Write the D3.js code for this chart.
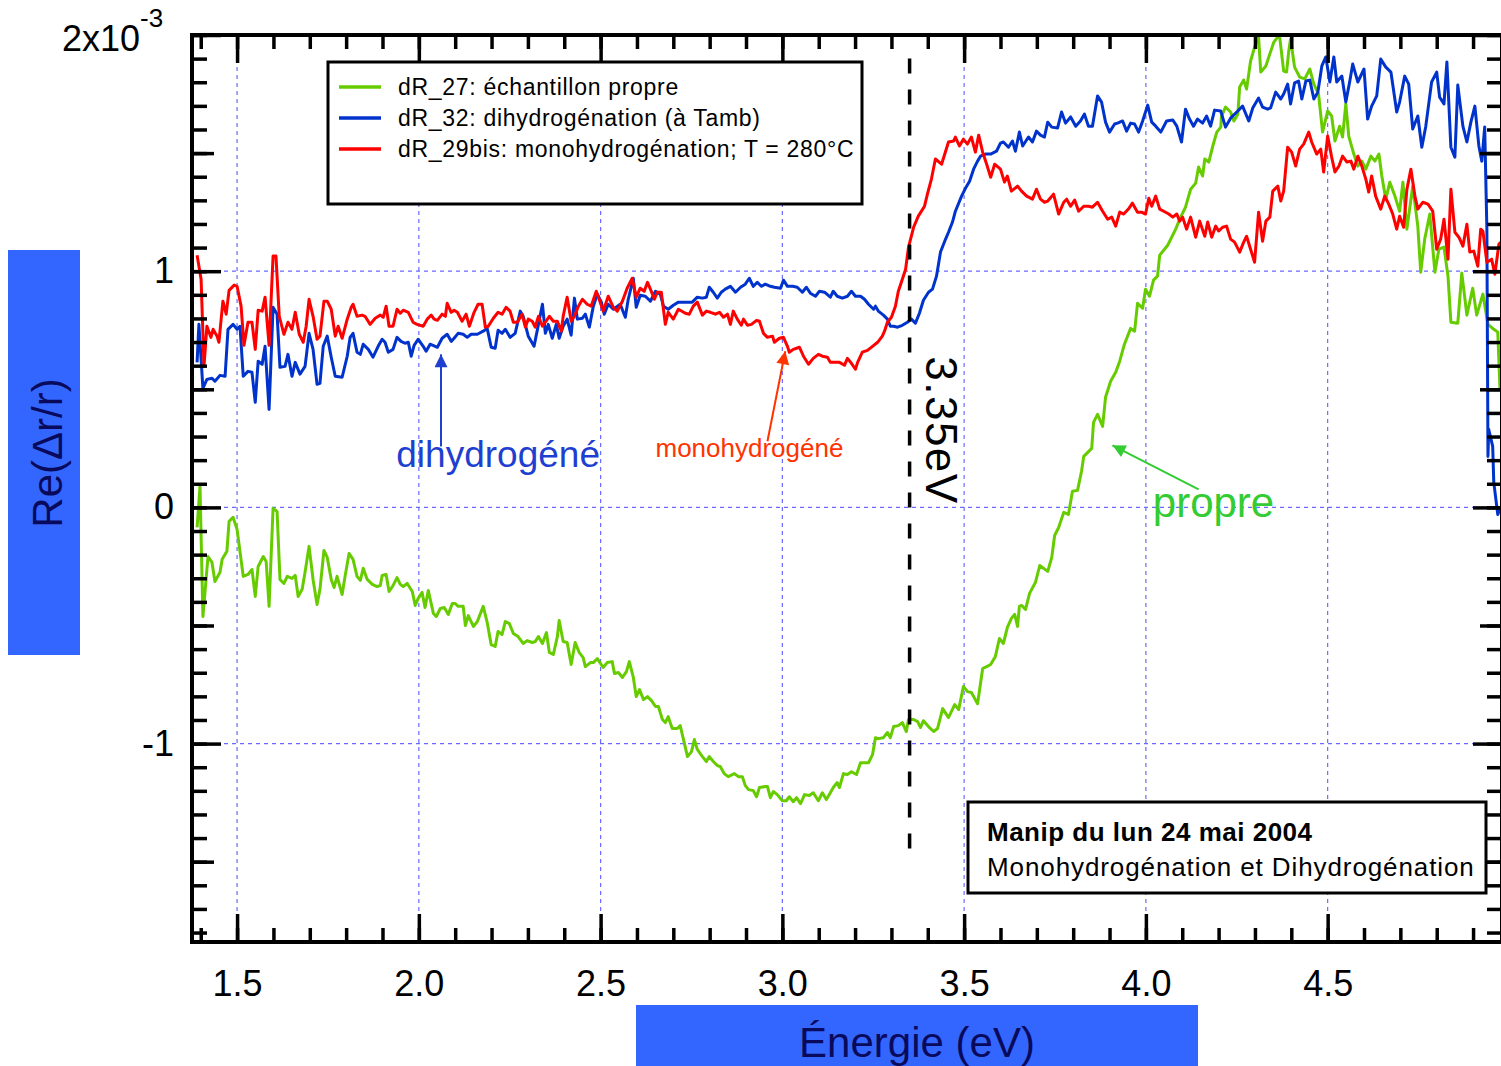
<!DOCTYPE html>
<html>
<head>
<meta charset="utf-8">
<script src="https://cdn.jsdelivr.net/npm/d3@7"></script>
<style>
body{margin:0;background:#fff;}
text{font-family:"Liberation Sans",Arial,sans-serif;}
</style>
</head>
<body>
<script>
// values are Re(dr/r) in units of 1e-3, energy in eV
var propre = [[1.390,-0.085],[1.398,0.089],[1.406,-0.462],[1.420,-0.208],[1.431,-0.233],[1.439,-0.314],[1.453,-0.275],[1.459,-0.220],[1.472,-0.186],[1.478,-0.059],[1.489,-0.042],[1.500,-0.093],[1.517,-0.292],[1.530,-0.284],[1.541,-0.263],[1.550,-0.377],[1.558,-0.250],[1.572,-0.208],[1.580,-0.229],[1.588,-0.419],[1.599,-0.004],[1.610,-0.017],[1.618,-0.305],[1.629,-0.322],[1.638,-0.292],[1.651,-0.301],[1.660,-0.288],[1.668,-0.377],[1.679,-0.347],[1.687,-0.275],[1.698,-0.165],[1.709,-0.305],[1.720,-0.411],[1.728,-0.347],[1.739,-0.182],[1.748,-0.212],[1.759,-0.305],[1.767,-0.339],[1.775,-0.292],[1.789,-0.369],[1.797,-0.292],[1.808,-0.195],[1.819,-0.220],[1.830,-0.292],[1.839,-0.309],[1.847,-0.258],[1.858,-0.305],[1.872,-0.326],[1.885,-0.335],[1.894,-0.331],[1.899,-0.288],[1.910,-0.284],[1.918,-0.356],[1.929,-0.331],[1.940,-0.297],[1.949,-0.326],[1.957,-0.335],[1.968,-0.322],[1.982,-0.356],[1.990,-0.415],[1.998,-0.386],[2.009,-0.360],[2.017,-0.424],[2.026,-0.352],[2.040,-0.449],[2.048,-0.462],[2.059,-0.428],[2.070,-0.424],[2.081,-0.453],[2.092,-0.407],[2.100,-0.407],[2.108,-0.419],[2.122,-0.419],[2.128,-0.500],[2.136,-0.458],[2.150,-0.504],[2.161,-0.483],[2.177,-0.419],[2.188,-0.487],[2.199,-0.581],[2.210,-0.589],[2.218,-0.525],[2.229,-0.538],[2.238,-0.483],[2.249,-0.492],[2.260,-0.534],[2.273,-0.547],[2.287,-0.576],[2.298,-0.564],[2.312,-0.572],[2.320,-0.568],[2.329,-0.547],[2.340,-0.576],[2.351,-0.530],[2.359,-0.614],[2.370,-0.623],[2.381,-0.547],[2.386,-0.479],[2.397,-0.568],[2.408,-0.572],[2.419,-0.665],[2.430,-0.572],[2.441,-0.614],[2.452,-0.636],[2.458,-0.674],[2.472,-0.657],[2.480,-0.657],[2.491,-0.640],[2.507,-0.678],[2.518,-0.657],[2.532,-0.653],[2.538,-0.703],[2.549,-0.699],[2.560,-0.720],[2.571,-0.695],[2.579,-0.653],[2.590,-0.720],
  [2.598,-0.801],[2.607,-0.771],[2.618,-0.814],[2.629,-0.801],[2.640,-0.818],[2.651,-0.843],[2.659,-0.843],[2.670,-0.898],[2.678,-0.911],[2.686,-0.886],[2.697,-0.936],[2.711,-0.936],[2.719,-0.924],[2.728,-0.983],[2.739,-1.055],[2.750,-1.034],[2.758,-0.983],[2.766,-1.025],[2.780,-1.055],[2.791,-1.076],[2.799,-1.055],[2.810,-1.076],[2.821,-1.093],[2.829,-1.097],[2.840,-1.127],[2.851,-1.140],[2.868,-1.127],[2.879,-1.140],[2.890,-1.140],[2.898,-1.178],[2.907,-1.195],[2.920,-1.199],[2.929,-1.225],[2.937,-1.186],[2.953,-1.182],[2.959,-1.182],[2.967,-1.229],[2.975,-1.203],[2.986,-1.216],[3.000,-1.242],[3.011,-1.242],[3.019,-1.225],[3.030,-1.246],[3.039,-1.229],[3.050,-1.254],[3.061,-1.216],[3.074,-1.220],[3.085,-1.208],[3.099,-1.242],[3.110,-1.208],[3.121,-1.237],[3.132,-1.208],[3.140,-1.186],[3.151,-1.165],[3.157,-1.186],[3.168,-1.127],[3.179,-1.131],[3.190,-1.119],[3.204,-1.131],[3.215,-1.081],[3.229,-1.081],[3.237,-1.081],[3.248,-1.047],[3.256,-0.975],[3.264,-0.979],[3.278,-0.975],[3.289,-0.953],[3.297,-0.975],[3.306,-0.928],[3.319,-0.924],[3.330,-0.911],[3.341,-0.949],[3.347,-0.898],[3.361,-0.898],[3.372,-0.907],[3.380,-0.932],[3.388,-0.903],[3.402,-0.928],[3.416,-0.949],[3.427,-0.936],[3.441,-0.852],[3.457,-0.890],[3.474,-0.835],[3.485,-0.856],[3.498,-0.758],[3.509,-0.780],[3.520,-0.784],[3.537,-0.831],[3.551,-0.682],[3.562,-0.674],[3.573,-0.665],[3.586,-0.631],[3.597,-0.555],[3.608,-0.576],[3.619,-0.508],[3.630,-0.470],[3.639,-0.453],[3.647,-0.504],[3.652,-0.419],
  [3.658,-0.415],[3.669,-0.432],[3.680,-0.364],[3.696,-0.318],[3.708,-0.246],[3.730,-0.271],[3.741,-0.212],[3.749,-0.119],[3.760,-0.085],[3.774,-0.021],[3.787,-0.030],[3.798,0.068],[3.812,0.072],[3.823,0.153],[3.829,0.216],[3.851,0.250],[3.856,0.360],[3.867,0.394],[3.881,0.343],[3.889,0.466],[3.903,0.534],[3.917,0.572],[3.928,0.619],[3.941,0.691],[3.958,0.758],[3.969,0.746],[3.977,0.864],[3.991,0.843],[3.999,0.924],[4.010,0.894],[4.021,0.962],[4.032,0.979],[4.038,1.068],[4.060,1.110],[4.082,1.178],
  [4.093,1.220],[4.109,1.271],[4.123,1.347],[4.137,1.373],[4.145,1.441],[4.156,1.403],[4.162,1.475],[4.173,1.462],[4.184,1.530],[4.195,1.589],[4.206,1.610],[4.208,1.657],[4.219,1.695],[4.233,1.674],[4.242,1.636],[4.253,1.665],[4.258,1.780],[4.269,1.809],[4.277,1.771],[4.288,1.890],[4.299,1.949],[4.310,1.992],[4.316,1.843],[4.330,1.869],[4.341,1.920],[4.352,1.970],[4.363,1.992],[4.368,1.992],[4.379,1.847],[4.387,1.843],[4.393,1.932],[4.398,1.983],[4.409,1.864],[4.423,1.822],[4.437,1.814],[4.451,1.856],[4.462,1.792],[4.475,1.750],[4.486,1.589],[4.500,1.678],[4.511,1.657],[4.520,1.551],[4.533,1.614],[4.541,1.568],[4.550,1.708],[4.558,1.572],[4.572,1.496],[4.583,1.445],[4.594,1.466],[4.605,1.432],[4.619,1.487],[4.630,1.466],[4.641,1.496],[4.649,1.403],[4.660,1.305],[4.671,1.377],[4.685,1.318],[4.698,1.254],[4.707,1.377],[4.718,1.178],[4.734,1.360],[4.748,1.191],[4.756,0.996],[4.767,1.136],[4.781,1.242],[4.795,0.996],[4.806,1.093],[4.820,1.102],[4.831,0.979],[4.839,0.784],[4.858,0.780],[4.869,0.992],[4.883,0.814],[4.899,0.928],[4.910,0.814],[4.927,0.903],[4.941,0.775],[4.957,0.754],[4.968,0.742],[4.974,0.500]];

var dihydro = [[1.390,0.614],[1.395,0.775],[1.406,0.504],[1.417,0.542],[1.431,0.547],[1.439,0.534],[1.453,0.559],[1.467,0.555],[1.475,0.754],[1.489,0.775],[1.500,0.754],[1.508,0.767],[1.517,0.555],[1.530,0.576],[1.541,0.572],[1.550,0.445],[1.558,0.619],[1.569,0.606],[1.577,0.682],[1.588,0.415],[1.599,0.847],[1.610,0.818],[1.618,0.593],[1.632,0.597],[1.640,0.648],[1.651,0.555],[1.660,0.614],[1.673,0.564],[1.687,0.597],[1.698,0.737],[1.709,0.669],[1.720,0.521],[1.728,0.525],[1.737,0.682],[1.748,0.725],[1.759,0.636],[1.770,0.555],[1.789,0.551],[1.803,0.640],[1.811,0.720],[1.819,0.737],[1.830,0.657],[1.839,0.648],[1.847,0.691],[1.861,0.669],[1.874,0.636],[1.888,0.682],[1.899,0.712],[1.907,0.699],[1.916,0.657],[1.929,0.669],[1.940,0.720],[1.951,0.703],[1.962,0.695],[1.971,0.699],[1.979,0.640],[1.987,0.686],[1.998,0.712],[2.012,0.682],[2.020,0.661],[2.031,0.691],[2.039,0.686],[2.051,0.678],[2.064,0.716],[2.078,0.733],[2.089,0.703],[2.097,0.716],[2.108,0.737],[2.122,0.733],[2.133,0.720],[2.144,0.733],[2.161,0.733],[2.177,0.746],[2.188,0.758],[2.199,0.678],[2.210,0.674],[2.218,0.750],[2.229,0.737],[2.238,0.754],[2.251,0.720],[2.265,0.737],[2.279,0.831],[2.287,0.809],[2.301,0.725],[2.317,0.682],[2.329,0.775],[2.340,0.860],[2.348,0.737],[2.356,0.775],[2.367,0.716],[2.378,0.775],[2.386,0.716],[2.397,0.767],[2.408,0.797],[2.419,0.729],[2.428,0.886],[2.436,0.797],[2.450,0.801],[2.458,0.818],[2.469,0.763],[2.480,0.852],[2.491,0.903],[2.502,0.869],[2.510,0.818],[2.521,0.860],[2.535,0.839],[2.554,0.860],[2.568,0.805],[2.576,0.881],[2.590,0.970],[2.598,0.847],[2.609,0.898],[2.623,0.894],[2.637,0.873],[2.651,0.915],[2.664,0.903],[2.673,0.852],[2.686,0.839],[2.700,0.856],[2.714,0.869],[2.736,0.869],[2.752,0.869],[2.766,0.890],[2.780,0.886],[2.791,0.890],[2.799,0.932],[2.810,0.911],[2.821,0.886],[2.832,0.911],[2.843,0.924],[2.857,0.936],[2.871,0.911],[2.885,0.932],[2.898,0.945],[2.909,0.970],[2.920,0.936],[2.931,0.953],[2.942,0.936],[2.953,0.945],[2.967,0.936],[2.978,0.932],[2.995,0.928],[3.003,0.962],[3.014,0.936],[3.028,0.936],[3.041,0.932],[3.055,0.911],[3.066,0.932],[3.077,0.907],[3.091,0.894],[3.102,0.915],[3.116,0.911],[3.132,0.890],[3.140,0.915],[3.151,0.894],[3.165,0.886],[3.179,0.894],[3.190,0.915],[3.201,0.894],[3.215,0.894],[3.226,0.881],[3.237,0.860],[3.251,0.839],[3.256,0.852],[3.264,0.831],[3.278,0.814],[3.289,0.797],[3.297,0.767],[3.306,0.767],[3.317,0.763],[3.330,0.771],[3.344,0.784],[3.355,0.797],[3.366,0.780],[3.377,0.822],[3.388,0.877],[3.402,0.911],[3.413,0.924],[3.424,0.979],[3.435,1.081],[3.449,1.136],
  [3.457,1.165],[3.468,1.208],[3.476,1.254],[3.493,1.318],[3.504,1.352],[3.515,1.381],[3.526,1.432],[3.537,1.466],[3.545,1.487],[3.559,1.496],[3.573,1.496],[3.589,1.508],[3.600,1.542],[3.608,1.547],[3.622,1.525],[3.633,1.551],[3.641,1.508],[3.652,1.589],[3.661,1.530],[3.677,1.568],[3.688,1.547],[3.699,1.593],[3.710,1.576],[3.721,1.568],[3.730,1.631],[3.741,1.610],[3.757,1.606],[3.768,1.674],[3.779,1.627],[3.793,1.653],[3.807,1.614],[3.820,1.636],[3.831,1.665],[3.842,1.614],[3.853,1.614],[3.867,1.742],[3.878,1.716],[3.889,1.631],[3.900,1.589],[3.914,1.623],[3.922,1.627],[3.936,1.636],[3.947,1.593],[3.958,1.627],[3.969,1.623],[3.980,1.589],[3.991,1.636],[4.005,1.703],[4.016,1.631],[4.027,1.614],[4.041,1.589],[4.057,1.636],[4.074,1.640],[4.085,1.614],[4.098,1.547],[4.109,1.686],[4.120,1.644],[4.131,1.614],[4.142,1.644],[4.156,1.627],[4.167,1.657],[4.178,1.614],[4.189,1.682],[4.206,1.678],[4.219,1.610],[4.233,1.648],[4.250,1.674],[4.266,1.699],[4.283,1.636],[4.294,1.691],[4.310,1.733],[4.321,1.695],[4.335,1.686],[4.343,1.691],[4.357,1.758],[4.371,1.729],[4.379,1.750],[4.390,1.792],[4.398,1.708],[4.409,1.797],[4.420,1.805],[4.429,1.729],[4.440,1.805],[4.451,1.809],[4.462,1.729],[4.473,1.758],[4.484,1.869],[4.495,1.907],[4.506,1.801],[4.517,1.907],[4.525,1.801],[4.539,1.826],[4.550,1.716],[4.561,1.805],[4.569,1.877],[4.583,1.801],[4.600,1.856],[4.610,1.644],[4.621,1.699],[4.635,1.742],[4.646,1.898],[4.660,1.864],[4.674,1.843],[4.690,1.674],[4.698,1.716],[4.712,1.826],[4.723,1.792],[4.734,1.602],[4.748,1.657],[4.759,1.525],[4.770,1.614],[4.786,1.801],[4.800,1.843],[4.808,1.737],[4.820,1.708],[4.828,1.886],[4.839,1.525],[4.850,1.483],[4.858,1.788],[4.872,1.614],[4.883,1.547],[4.894,1.631],[4.905,1.699],[4.916,1.530],[4.924,1.466],[4.932,1.610],[4.938,1.178],[4.941,0.216],[4.943,0.331],[4.954,0.258],[4.957,0.106],[4.968,-0.030],[4.976,0.004]];

var monohydro = [[1.390,1.068],[1.401,0.966],[1.409,0.597],[1.417,0.767],[1.428,0.720],[1.434,0.754],[1.445,0.725],[1.450,0.699],[1.461,0.873],[1.470,0.818],[1.478,0.919],[1.492,0.941],[1.500,0.936],[1.511,0.852],[1.519,0.686],[1.530,0.784],[1.541,0.784],[1.550,0.669],[1.558,0.835],[1.569,0.831],[1.577,0.890],[1.588,0.686],[1.599,1.064],[1.607,1.064],[1.616,0.809],[1.629,0.733],[1.640,0.784],[1.651,0.754],[1.660,0.826],[1.671,0.733],[1.682,0.699],[1.690,0.767],[1.698,0.881],[1.709,0.809],[1.720,0.712],[1.728,0.725],[1.739,0.873],[1.748,0.873],[1.759,0.839],[1.770,0.725],[1.778,0.767],[1.789,0.716],[1.803,0.797],[1.814,0.847],[1.819,0.860],[1.830,0.809],[1.844,0.814],[1.852,0.809],[1.866,0.775],[1.880,0.801],[1.894,0.814],[1.902,0.805],[1.910,0.852],[1.918,0.767],[1.929,0.767],[1.940,0.839],[1.949,0.822],[1.957,0.835],[1.971,0.826],[1.984,0.784],[1.995,0.775],[2.012,0.767],[2.023,0.797],[2.034,0.814],[2.042,0.797],[2.051,0.792],[2.064,0.818],[2.073,0.809],[2.078,0.864],[2.089,0.826],[2.097,0.835],[2.106,0.826],[2.119,0.788],[2.130,0.818],[2.139,0.767],[2.152,0.826],[2.163,0.860],[2.174,0.860],[2.183,0.763],[2.191,0.767],[2.205,0.801],[2.218,0.826],[2.229,0.818],[2.240,0.847],[2.251,0.831],[2.260,0.784],[2.271,0.784],[2.284,0.818],[2.293,0.763],[2.301,0.797],[2.312,0.788],[2.320,0.763],[2.329,0.809],[2.340,0.767],[2.348,0.784],[2.359,0.809],[2.370,0.788],[2.381,0.788],[2.392,0.746],[2.397,0.809],[2.408,0.890],[2.419,0.788],[2.428,0.809],[2.439,0.852],[2.450,0.881],[2.463,0.860],[2.474,0.852],[2.488,0.915],[2.496,0.881],[2.507,0.831],[2.521,0.894],[2.535,0.847],[2.546,0.831],[2.560,0.873],[2.573,0.928],[2.587,0.970],[2.598,0.890],[2.609,0.928],[2.620,0.915],[2.629,0.953],[2.637,0.924],[2.648,0.881],[2.656,0.911],[2.667,0.911],[2.678,0.775],[2.686,0.826],[2.700,0.797],[2.714,0.839],[2.733,0.822],[2.744,0.818],[2.755,0.852],[2.766,0.869],[2.780,0.814],[2.791,0.831],[2.802,0.826],[2.816,0.818],[2.827,0.826],[2.838,0.805],[2.849,0.818],[2.857,0.775],[2.865,0.831],[2.876,0.797],[2.887,0.771],[2.893,0.797],[2.904,0.771],[2.915,0.775],[2.929,0.792],[2.937,0.788],[2.948,0.737],[2.959,0.720],[2.973,0.725],[2.978,0.699],[2.992,0.716],[3.003,0.720],[3.014,0.682],[3.019,0.657],[3.030,0.669],[3.047,0.678],[3.058,0.640],[3.072,0.606],[3.085,0.631],[3.099,0.648],[3.110,0.640],[3.124,0.636],[3.132,0.614],[3.146,0.614],[3.157,0.614],[3.171,0.602],[3.179,0.631],[3.190,0.610],[3.201,0.585],[3.207,0.614],[3.220,0.657],[3.234,0.665],[3.248,0.682],[3.262,0.699],[3.275,0.725],[3.281,0.746],[3.289,0.784],[3.300,0.805],[3.311,0.852],[3.319,0.915],[3.330,0.966],[3.339,1.008],[3.347,1.102],[3.361,1.186],[3.374,1.233],[3.391,1.275],[3.399,1.326],[3.410,1.390],[3.421,1.475],[3.438,1.453],[3.457,1.547],[3.471,1.551],[3.476,1.568],[3.487,1.530],[3.498,1.559],[3.509,1.538],[3.520,1.568],[3.531,1.504],[3.540,1.576],[3.551,1.504],[3.562,1.453],[3.573,1.398],[3.584,1.453],[3.600,1.432],[3.611,1.377],[3.619,1.403],[3.630,1.339],[3.647,1.360],[3.658,1.339],[3.672,1.318],[3.688,1.305],[3.699,1.347],[3.710,1.305],[3.721,1.292],[3.730,1.297],[3.746,1.326],[3.760,1.242],[3.774,1.292],[3.782,1.305],[3.793,1.275],[3.804,1.301],[3.815,1.254],[3.829,1.275],[3.842,1.275],[3.853,1.271],[3.867,1.292],[3.881,1.254],[3.895,1.220],[3.906,1.229],[3.917,1.191],[3.928,1.250],[3.939,1.242],[3.952,1.263],[3.963,1.288],[3.977,1.250],[3.988,1.250],[3.999,1.242],[4.008,1.309],[4.016,1.275],[4.027,1.318],[4.038,1.263],[4.049,1.254],[4.063,1.242],[4.074,1.229],[4.085,1.242],[4.093,1.212],[4.101,1.229],[4.112,1.178],[4.123,1.229],[4.137,1.144],[4.148,1.212],[4.162,1.148],[4.170,1.208],[4.181,1.144],[4.192,1.191],[4.200,1.170],[4.211,1.186],[4.222,1.191],[4.233,1.136],[4.244,1.123],[4.258,1.081],[4.269,1.123],[4.277,1.148],[4.288,1.093],[4.299,1.038],[4.310,1.250],[4.321,1.127],[4.330,1.212],[4.341,1.229],[4.349,1.339],[4.363,1.360],[4.371,1.297],[4.379,1.339],[4.390,1.525],[4.401,1.504],[4.412,1.445],[4.423,1.517],[4.434,1.538],[4.448,1.589],[4.456,1.547],[4.470,1.496],[4.481,1.517],[4.489,1.420],[4.500,1.572],[4.511,1.483],[4.520,1.420],[4.531,1.445],[4.541,1.487],[4.553,1.462],[4.564,1.466],[4.572,1.432],[4.583,1.487],[4.594,1.445],[4.605,1.390],[4.613,1.335],[4.621,1.403],[4.632,1.318],[4.646,1.263],[4.657,1.318],[4.668,1.284],[4.679,1.242],[4.690,1.178],[4.698,1.233],[4.709,1.186],[4.718,1.347],[4.729,1.432],[4.740,1.318],[4.748,1.263],[4.762,1.292],[4.776,1.284],[4.789,1.254],[4.800,1.093],[4.811,1.136],[4.820,1.220],[4.831,1.051],[4.839,1.347],[4.850,1.165],[4.861,1.144],[4.872,1.106],[4.883,1.199],[4.891,1.081],[4.902,1.085],[4.913,1.021],[4.921,1.178],[4.927,1.170],[4.938,1.038],[4.951,1.051],[4.960,0.987],[4.971,1.114],[4.976,1.123]];

var seriesNames = ["dR_27: échantillon propre", "dR_32: dihydrogénation (à Tamb)", "dR_29bis: monohydrogénation; T = 280°C"];
var seriesColors = ["#66cc00", "#0033cc", "#ff0000"];
var xMajorTicks = [1.5, 2.0, 2.5, 3.0, 3.5, 4.0, 4.5];
var yMajorTicks = [-1, 0, 1, 2];
var yGridTicks = [-1, 0, 1];
var markerEnergy = 3.35;

window.onload = function(){
    var W = 1501, H = 1066;
    var left = 192, right = 1502, top = 35, bottom = 942;

    var svg = d3.select("body").append("svg")
        .attr("width", W).attr("height", H)
        .style("display", "block");

    var x = d3.scaleLinear().domain([1.376, 4.9796]).range([left, right]);
    var y = d3.scaleLinear().domain([-1.84, 2.0]).range([bottom, top]);

    var defs = svg.append("defs");
    defs.append("clipPath").attr("id", "plotclip")
        .append("rect").attr("x", left).attr("y", top - 2)
        .attr("width", right - left).attr("height", bottom - top + 2);

    function arrowMarker(id, color){
        defs.append("marker").attr("id", id)
            .attr("viewBox", "0 0 10 10").attr("refX", 10).attr("refY", 5)
            .attr("markerUnits", "userSpaceOnUse")
            .attr("markerWidth", 15).attr("markerHeight", 13)
            .attr("orient", "auto")
            .append("path").attr("d", "M0,0 L10,5 L0,10 Z").attr("fill", color);
    }
    arrowMarker("arrBlue", "#1f3fd0");
    arrowMarker("arrRed", "#ff3300");
    arrowMarker("arrGreen", "#33cc33");

    //grid
    var grid = svg.append("g").attr("class", "grid")
        .attr("stroke", "#6a6aff").attr("stroke-width", 1.2).attr("stroke-dasharray", "4,4");
    grid.selectAll(".gx").data(xMajorTicks).enter().append("line")
        .attr("x1", function(d){ return x(d); }).attr("x2", function(d){ return x(d); })
        .attr("y1", top).attr("y2", bottom);
    grid.selectAll(".gy").data(yGridTicks).enter().append("line")
        .attr("x1", left).attr("x2", right)
        .attr("y1", function(d){ return y(d); }).attr("y2", function(d){ return y(d); });

    //curves
    var line = d3.line().x(function(d){ return x(d[0]); }).y(function(d){ return y(d[1]); });
    var curves = svg.append("g").attr("clip-path", "url(#plotclip)");
    [propre, dihydro, monohydro].forEach(function(s, i){
        curves.append("path").datum(s)
            .attr("d", line)
            .attr("fill", "none")
            .attr("stroke", seriesColors[i])
            .attr("stroke-width", 3)
            .attr("stroke-linejoin", "round");
    });

    //3.35 eV marker
    svg.append("line")
        .attr("x1", x(markerEnergy)).attr("x2", x(markerEnergy))
        .attr("y1", y(1.9)).attr("y2", y(-1.46))
        .attr("stroke", "#000").attr("stroke-width", 3.5)
        .attr("stroke-dasharray", "15,16");
    svg.append("text")
        .attr("transform", "translate(" + (x(markerEnergy) + 16) + "," + y(0.64) + ") rotate(90)")
        .attr("font-size", 44).attr("letter-spacing", 1.5).attr("fill", "#000")
        .text("3.35eV");

    //axes: ticks point inward
    var minorX = d3.range(14, 50).map(function(d){ return d / 10; });
    var minorY = d3.range(-18, 21).map(function(d){ return d / 10; });
    var midY = [-1.5, -0.5, 0.5, 1.5];

    function tickAxis(gen, values, size, tx, ty){
        var g = svg.append("g")
            .attr("transform", "translate(" + tx + "," + ty + ")")
            .call(gen.tickValues(values).tickSize(-size).tickFormat(""));
        g.select(".domain").remove();
        g.selectAll(".tick line").attr("stroke-width", 3.5);
        return g;
    }
    tickAxis(d3.axisBottom(x), minorX, 14, 0, bottom);
    tickAxis(d3.axisBottom(x), xMajorTicks, 28, 0, bottom);
    tickAxis(d3.axisTop(x), minorX, 14, 0, top);
    tickAxis(d3.axisTop(x), xMajorTicks, 28, 0, top);
    tickAxis(d3.axisLeft(y), minorY, 15, left, 0);
    tickAxis(d3.axisLeft(y), midY, 22, left, 0);
    tickAxis(d3.axisLeft(y), yMajorTicks, 29, left, 0);
    tickAxis(d3.axisRight(y), minorY, 15, right, 0);
    tickAxis(d3.axisRight(y), midY, 22, right, 0);
    tickAxis(d3.axisRight(y), yMajorTicks, 29, right, 0);

    //frame
    svg.append("rect")
        .attr("x", left).attr("y", top)
        .attr("width", right - left).attr("height", bottom - top)
        .attr("fill", "none").attr("stroke", "#000").attr("stroke-width", 4);

    //tick labels
    var xLab = svg.append("g")
        .attr("transform", "translate(0," + bottom + ")")
        .call(d3.axisBottom(x).tickValues(xMajorTicks).tickSize(0).tickPadding(28).tickFormat(d3.format(".1f")));
    xLab.select(".domain").remove();
    xLab.selectAll("text").attr("font-size", 36).attr("fill", "#000")
        .style("font-family", "'Liberation Sans', Arial, sans-serif");

    var yLab = svg.append("g")
        .attr("transform", "translate(" + left + ",0)")
        .call(d3.axisLeft(y).tickValues(yGridTicks).tickSize(0).tickPadding(18).tickFormat(function(d){ return String(d); }));
    yLab.select(".domain").remove();
    yLab.selectAll("text").attr("font-size", 36).attr("fill", "#000")
        .style("font-family", "'Liberation Sans', Arial, sans-serif");

    var topLabel = svg.append("text")
        .attr("x", 62).attr("y", y(2) + 16)
        .attr("font-size", 36).attr("fill", "#000");
    topLabel.append("tspan").text("2x10");
    topLabel.append("tspan").attr("dy", -24).attr("font-size", 26).text("-3");

    //axis titles on blue boxes
    svg.append("rect").attr("x", 636).attr("y", 1005).attr("width", 562).attr("height", 61).attr("fill", "#3366ff");
    svg.append("text").attr("x", 917).attr("y", 1057).attr("text-anchor", "middle")
        .attr("font-size", 42).attr("fill", "#0a0a5c").text("Énergie (eV)");
    svg.append("rect").attr("x", 8).attr("y", 250).attr("width", 72).attr("height", 405).attr("fill", "#3366ff");
    svg.append("text").attr("transform", "translate(62,453) rotate(-90)").attr("text-anchor", "middle")
        .attr("font-size", 42).attr("fill", "#0a0a5c").text("Re(Δr/r)");

    //legend
    var legend = svg.append("g");
    legend.append("rect").attr("x", 328).attr("y", 62).attr("width", 534).attr("height", 142)
        .attr("fill", "#fff").attr("stroke", "#000").attr("stroke-width", 3);
    seriesNames.forEach(function(name, i){
        var ly = 87 + i * 31;
        legend.append("line").attr("x1", 339).attr("x2", 381).attr("y1", ly).attr("y2", ly)
            .attr("stroke", seriesColors[i]).attr("stroke-width", 3.5);
        legend.append("text").attr("x", 398).attr("y", ly + 8)
            .attr("font-size", 23).attr("letter-spacing", 0.7).attr("fill", "#000").text(name);
    });

    //info box
    var info = svg.append("g");
    info.append("rect").attr("x", 968).attr("y", 802).attr("width", 518).attr("height", 91)
        .attr("fill", "#fff").attr("stroke", "#000").attr("stroke-width", 3);
    info.append("text").attr("x", 987).attr("y", 841).attr("font-size", 26).attr("letter-spacing", 0.5)
        .attr("font-weight", "bold").attr("fill", "#000").text("Manip du lun 24 mai 2004");
    info.append("text").attr("x", 987).attr("y", 876).attr("font-size", 26).attr("letter-spacing", 0.9)
        .attr("fill", "#000").text("Monohydrogénation et Dihydrogénation");

    //annotations with arrows
    var notes = [
        {text: "dihydrogéné", color: "#1f3fd0", size: 37, tx: 1.938, ty: 0.170, from: [2.061, 0.258], to: [2.061, 0.648], marker: "arrBlue"},
        {text: "monohydrogéné", color: "#ff3300", size: 26, tx: 2.651, ty: 0.212, from: [2.959, 0.280], to: [3.008, 0.661], marker: "arrRed"},
        {text: "propre", color: "#33cc33", size: 42, tx: 4.019, ty: -0.042, from: [4.145, 0.076], to: [3.908, 0.263], marker: "arrGreen"}
    ];
    notes.forEach(function(n){
        svg.append("line")
            .attr("x1", x(n.from[0])).attr("y1", y(n.from[1]))
            .attr("x2", x(n.to[0])).attr("y2", y(n.to[1]))
            .attr("stroke", n.color).attr("stroke-width", 2)
            .attr("marker-end", "url(#" + n.marker + ")");
        svg.append("text").attr("x", x(n.tx)).attr("y", y(n.ty))
            .attr("font-size", n.size).attr("fill", n.color).text(n.text);
    });
};
</script>
</body>
</html>
